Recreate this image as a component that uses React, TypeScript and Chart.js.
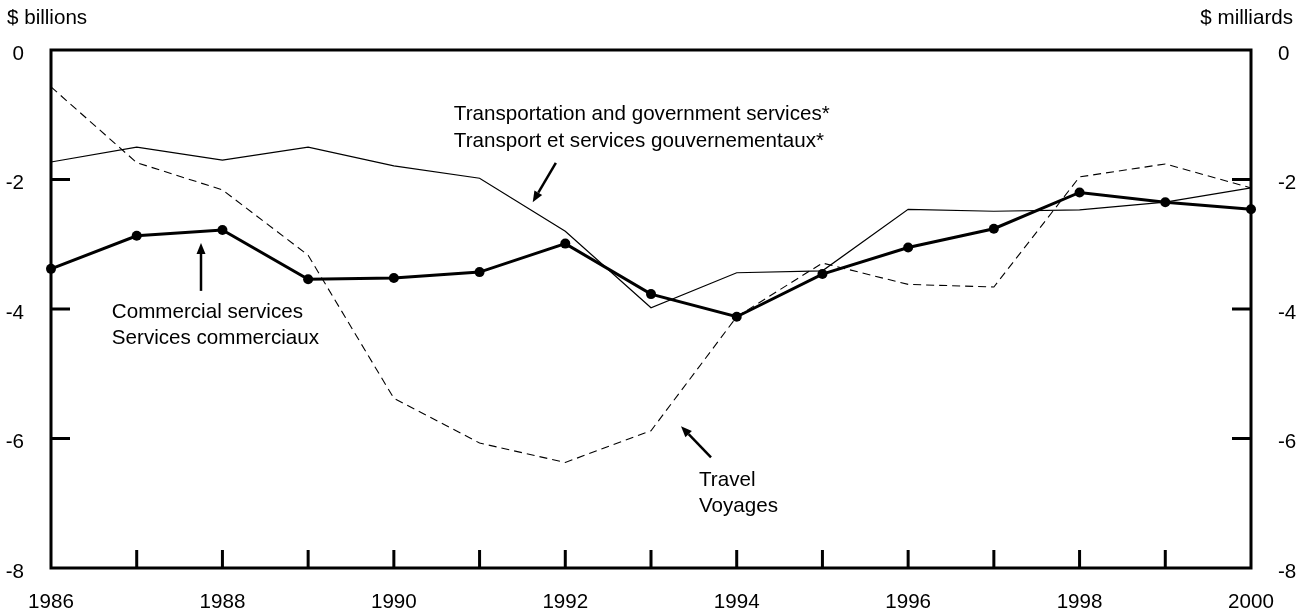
import React, { useEffect, useRef } from "react";
import { Chart, registerables } from "chart.js";

Chart.register(...registerables);

const years = ["1986", "1987", "1988", "1989", "1990", "1991", "1992", "1993", "1994", "1995", "1996", "1997", "1998", "1999", "2000"];
const commercial = [-3.38, -2.87, -2.78, -3.54, -3.52, -3.43, -2.99, -3.77, -4.12, -3.46, -3.05, -2.76, -2.2, -2.35, -2.46];
const transport = [-1.73, -1.5, -1.7, -1.5, -1.79, -1.98, -2.8, -3.98, -3.44, -3.41, -2.46, -2.49, -2.47, -2.35, -2.13];
const travel = [-0.57, -1.74, -2.16, -3.17, -5.38, -6.07, -6.37, -5.88, -4.12, -3.29, -3.62, -3.66, -1.96, -1.76, -2.13];
const yTicks = [0, -2, -4, -6, -8];

const leftTitle = "$ billions";
const rightTitle = "$ milliards";

// annotations in data units (year index from 0, value)
const notes = [
  { lines: ["Transportation and government services*", "Transport et services gouvernementaux*"], x: 4.7, y: -1.0, gap: 0.41 },
  { lines: ["Commercial services", "Services commerciaux"], x: 0.71, y: -4.05, gap: 0.41 },
  { lines: ["Travel", "Voyages"], x: 7.56, y: -6.64, gap: 0.41 },
];
const arrows = [
  { from: [5.89, -1.745], to: [5.62, -2.35] },
  { from: [1.75, -3.72], to: [1.75, -2.98] },
  { from: [7.7, -6.29], to: [7.35, -5.81] },
];

const FONT = '"Liberation Sans", Arial, Helvetica, sans-serif';
const FS = 20.6;

const decorPlugin = {
  id: "decor",
  afterDraw(chart: any) {
    const { ctx, chartArea: a, scales } = chart;
    const xs = scales.x;
    const ys = scales.y;
    ctx.save();
    ctx.strokeStyle = "#000";
    ctx.lineWidth = 3;
    ctx.lineCap = "butt";
    // box
    ctx.beginPath();
    ctx.rect(a.left, a.top, a.right - a.left, a.bottom - a.top);
    ctx.stroke();
    // y ticks inward
    ctx.beginPath();
    yTicks.forEach((v) => {
      if (v === 0 || v === -8) return;
      const py = ys.getPixelForValue(v);
      ctx.moveTo(a.left, py);
      ctx.lineTo(a.left + 19, py);
      ctx.moveTo(a.right, py);
      ctx.lineTo(a.right - 19, py);
    });
    // x ticks inward
    years.forEach((_, i) => {
      if (i === 0 || i === years.length - 1) return;
      const px = xs.getPixelForValue(i);
      ctx.moveTo(px, a.bottom);
      ctx.lineTo(px, a.bottom - 18);
    });
    ctx.stroke();

    // axis titles
    ctx.fillStyle = "#000";
    ctx.font = `${FS}px ${FONT}`;
    ctx.textBaseline = "middle";
    ctx.textAlign = "left";
    ctx.fillText(leftTitle, 7, 18);
    ctx.textAlign = "right";
    ctx.fillText(rightTitle, 1293, 18);

    // notes
    ctx.textAlign = "left";
    notes.forEach((n) => {
      const px = xs.getPixelForValue(n.x);
      n.lines.forEach((t, k) => {
        const py = ys.getPixelForValue(n.y - k * n.gap);
        ctx.fillText(t, px, py);
      });
    });

    // arrows
    ctx.lineWidth = 2.5;
    arrows.forEach((ar) => {
      const x1 = xs.getPixelForValue(ar.from[0]);
      const y1 = ys.getPixelForValue(ar.from[1]);
      const x2 = xs.getPixelForValue(ar.to[0]);
      const y2 = ys.getPixelForValue(ar.to[1]);
      const ang = Math.atan2(y2 - y1, x2 - x1);
      const hl = 11;
      const hw = 4.5;
      const bx = x2 - hl * Math.cos(ang);
      const by = y2 - hl * Math.sin(ang);
      ctx.beginPath();
      ctx.moveTo(x1, y1);
      ctx.lineTo(bx, by);
      ctx.stroke();
      ctx.beginPath();
      ctx.moveTo(x2, y2);
      ctx.lineTo(bx + hw * Math.sin(ang), by - hw * Math.cos(ang));
      ctx.lineTo(bx - hw * Math.sin(ang), by + hw * Math.cos(ang));
      ctx.closePath();
      ctx.fill();
    });
    ctx.restore();
  },
};

export default function App() {
  const ref = useRef<HTMLCanvasElement | null>(null);
  useEffect(() => {
    document.body.style.margin = "0";
    Chart.defaults.font.family = FONT;
    Chart.defaults.font.size = FS;
    Chart.defaults.color = "#000";
    const yAxis = (pos: "left" | "right", w: number) => ({
      position: pos,
      min: -8,
      max: 0,
      grid: { display: false, drawTicks: false },
      border: { display: false },
      ticks: {
        stepSize: 2,
        padding: 27,
        labelOffset: 4,
        color: "#000",
        font: { size: FS, family: FONT },
        callback: (v: any) => String(v),
      },
      afterFit: (s: any) => {
        s.width = w;
      },
    });
    const chart = new Chart(ref.current as HTMLCanvasElement, {
      type: "line",
      data: {
        labels: years,
        datasets: [
          {
            label: "Commercial services",
            data: commercial,
            borderColor: "#000",
            backgroundColor: "#000",
            borderWidth: 3,
            pointRadius: 5,
            pointBackgroundColor: "#000",
            pointBorderWidth: 0,
            tension: 0,
            clip: false as any,
          },
          {
            label: "Transportation and government services",
            data: transport,
            borderColor: "#000",
            borderWidth: 1.2,
            pointRadius: 0,
            tension: 0,
          },
          {
            label: "Travel",
            data: travel,
            borderColor: "#000",
            borderWidth: 1.1,
            borderDash: [8, 5],
            pointRadius: 0,
            tension: 0,
          },
        ],
      },
      options: {
        animation: false,
        responsive: false,
        devicePixelRatio: 1,
        layout: { padding: { top: 50, left: 0, right: 0, bottom: 0 } },
        plugins: { legend: { display: false }, tooltip: { enabled: false } },
        scales: {
          x: {
            type: "category",
            grid: { display: false, drawTicks: false },
            border: { display: false },
            ticks: {
              autoSkip: false,
              maxRotation: 0,
              padding: 22,
              color: "#000",
              font: { size: FS, family: FONT },
              callback: (_v: any, i: number) => (i % 2 === 0 ? years[i] : ""),
            },
            afterFit: (s: any) => {
              s.height = 48;
            },
          },
          y: yAxis("left", 51) as any,
          y1: yAxis("right", 54) as any,
        },
      },
      plugins: [decorPlugin],
    });
    return () => chart.destroy();
  }, []);
  return <canvas ref={ref} width={1305} height={616} style={{ display: "block", width: 1305, height: 616 }} />;
}
